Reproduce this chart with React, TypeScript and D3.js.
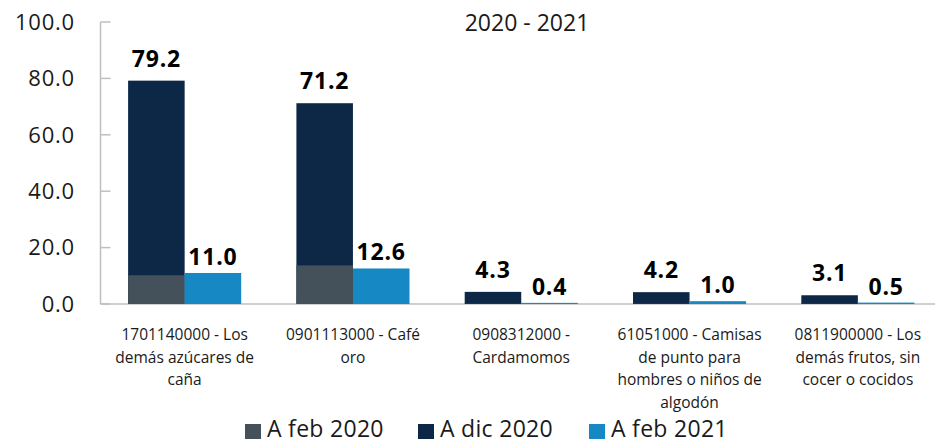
import React from "react";
import * as d3 from "d3";

const categories: string[][] = [
  ["1701140000 - Los", "demás azúcares de", "caña"],
  ["0901113000 - Café", "oro"],
  ["0908312000 -", "Cardamomos"],
  ["61051000 - Camisas", "de punto para", "hombres o niños de", "algodón"],
  ["0811900000 - Los", "demás frutos, sin", "cocer o cocidos"],
];
const febs2020: number[] = [10.2, 13.7, 0.1, 0.1, 0.1];
const dic2020: number[] = [79.2, 71.2, 4.3, 4.2, 3.1];
const feb2021: number[] = [11.0, 12.6, 0.4, 1.0, 0.5];
const yTicks: number[] = [0, 20, 40, 60, 80, 100];
const seriesNames: string[] = ["A feb 2020", "A dic 2020", "A feb 2021"];
const title = "2020 - 2021";

const W = 935;
const H = 443;
const C_GREY = "#44505a";
const C_NAVY = "#0d2847";
const C_BLUE = "#1689c5";
const AXIS = "#bfbfbf";
const FONT = "'Open Sans', sans-serif";

export default function App() {
  const left = 100.5;
  const y = d3.scaleLinear().domain([0, 100]).range([304, 22]);
  const x0 = d3
    .scaleBand<number>()
    .domain(d3.range(categories.length))
    .range([left, left + 168.3 * categories.length])
    .paddingInner(0.328)
    .paddingOuter(0.164);
  const x1 = d3.scaleBand<number>().domain([0, 1]).range([0, x0.bandwidth()]);
  const colors = [C_GREY, C_NAVY, C_BLUE];

  return (
    <svg
      width={W}
      height={H}
      style={{ position: "absolute", left: 0, top: 0, background: "#fff" }}
      fontFamily={FONT}
    >
      <text x={527} y={30.5} textAnchor="middle" fontSize={23} fill="#1a1a1a">
        {title}
      </text>
      {/* axes */}
      <line x1={left} x2={left} y1={y(100)} y2={y(0)} stroke={AXIS} strokeWidth={1.5} />
      <line x1={left} x2={W} y1={y(0)} y2={y(0)} stroke={AXIS} strokeWidth={1.5} />
      {yTicks.map((t) => (
        <g key={t}>
          <line x1={left} x2={left + 10} y1={y(t)} y2={y(t)} stroke={AXIS} strokeWidth={1.5} />
          <text
            x={75}
            y={y(t)}
            dy="0.35em"
            textAnchor="end"
            fontSize={22}
            letterSpacing={0.8}
            fill="#1a1a1a"
          >
            {t.toFixed(1)}
          </text>
        </g>
      ))}
      {/* bars */}
      {categories.map((_, i) => {
        const gx = x0(i)!;
        const bw = x1.bandwidth();
        return (
          <g key={i}>
            <rect x={gx + x1(0)!} y={y(dic2020[i])} width={bw} height={y(0) - y(dic2020[i])} fill={C_NAVY} />
            <rect x={gx + x1(0)!} y={y(febs2020[i])} width={bw} height={y(0) - y(febs2020[i])} fill={C_GREY} />
            <rect x={gx + x1(1)!} y={y(feb2021[i])} width={bw} height={y(0) - y(feb2021[i])} fill={C_BLUE} />
            <text
              x={gx + x1(0)! + bw / 2}
              y={y(dic2020[i]) - 14}
              textAnchor="middle"
              fontSize={23}
              fontWeight={700}
              letterSpacing={0.8}
              fill="#000"
            >
              {dic2020[i].toFixed(1)}
            </text>
            <text
              x={gx + x1(1)! + bw / 2}
              y={y(feb2021[i]) - 8}
              textAnchor="middle"
              fontSize={23}
              fontWeight={700}
              letterSpacing={0.8}
              fill="#000"
            >
              {feb2021[i].toFixed(1)}
            </text>
            <text textAnchor="middle" fontSize={15.5} fill="#1a1a1a">
              {categories[i].map((line, k) => (
                <tspan key={k} x={gx + x0.bandwidth() / 2} y={340 + k * 22.5}>
                  {line}
                </tspan>
              ))}
            </text>
          </g>
        );
      })}
      {/* legend */}
      {seriesNames.map((s, i) => {
        const lx = [245, 418, 589][i];
        return (
          <g key={s}>
            <rect x={lx} y={424} width={16} height={15} fill={colors[i]} />
            <text x={lx + 22} y={436.5} fontSize={23} letterSpacing={0.3} fill="#1a1a1a">
              {s}
            </text>
          </g>
        );
      })}
    </svg>
  );
}
